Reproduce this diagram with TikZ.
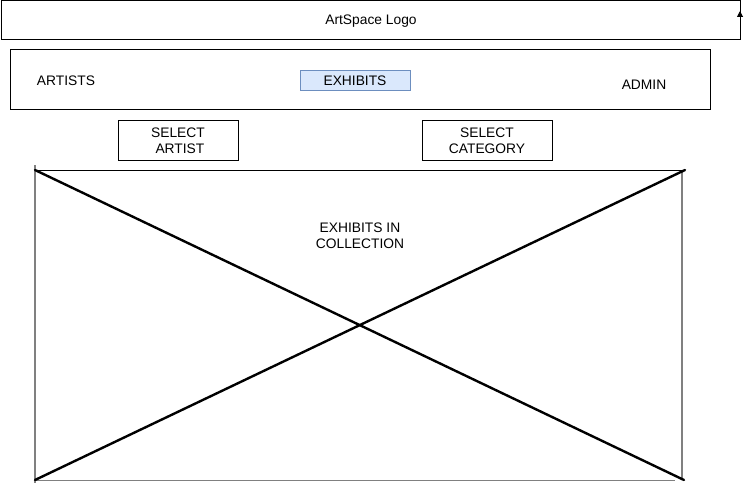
\documentclass[tikz,border=0pt]{standalone}
\usepackage{fontspec}
\setmainfont{Liberation Sans}
\usetikzlibrary{arrows.meta}
\definecolor{hlfill}{HTML}{DAE8FC}
\definecolor{hldraw}{HTML}{6C8EBF}
\definecolor{edgegray}{HTML}{808080}
\begin{document}
\begin{tikzpicture}[x=1pt,y=-1pt,
  frame/.style={draw=black,line width=1pt},
  lbl/.style={font=\fontsize{13.8}{16}\selectfont,align=center,inner sep=0pt},
  hl/.style={draw=hldraw,fill=hlfill,line width=1pt},
  cross/.style={line width=2.4pt,line cap=round},
  gedge/.style={draw=edgegray,line width=1.2pt}]
\useasboundingbox (0,0) rectangle (749,487);
% logo bar
\draw[frame] (1,1) rectangle (740,40);
\node[lbl] (logo) at (371,21) {ArtSpace Logo};
\coordinate (ar1) at (740,30);
\coordinate (ar2) at (740,11);
\draw[line width=1pt,-{Triangle[length=6pt,width=6pt]}] (ar1) -- (ar2);
% nav bar
\draw[frame] (10,50) rectangle (710,109);
\node[lbl] (artists) at (66,81) {ARTISTS};
\draw[hl] (300,70) rectangle (410,90);
\node[lbl] (exhibits) at (355,80.5) {EXHIBITS};
\node[lbl] (admin) at (644,85) {ADMIN};
% selectors
\draw[frame] (118,120) rectangle (238,160);
\node[lbl] (selart) at (178,141) {SELECT\\\ ARTIST};
\draw[frame] (422,120) rectangle (552,160);
\node[lbl] (selcat) at (487,141) {SELECT\\CATEGORY};
% image placeholder
\coordinate (tl) at (35,170);
\coordinate (tr) at (685,170);
\coordinate (bl) at (35,480);
\coordinate (br) at (684,480);
\draw[gedge] (35,165) -- (35,483);
\draw[gedge] (682,172) -- (682,479);
\draw[gedge] (35,480.5) -- (675,480.5);
\draw[line width=1pt] (tl) -- (tr);
\draw[cross] (tl) -- (br);
\draw[cross] (bl) -- (tr);
\node[lbl] (coll) at (360,236) {EXHIBITS IN\\COLLECTION};
\end{tikzpicture}
\end{document}
